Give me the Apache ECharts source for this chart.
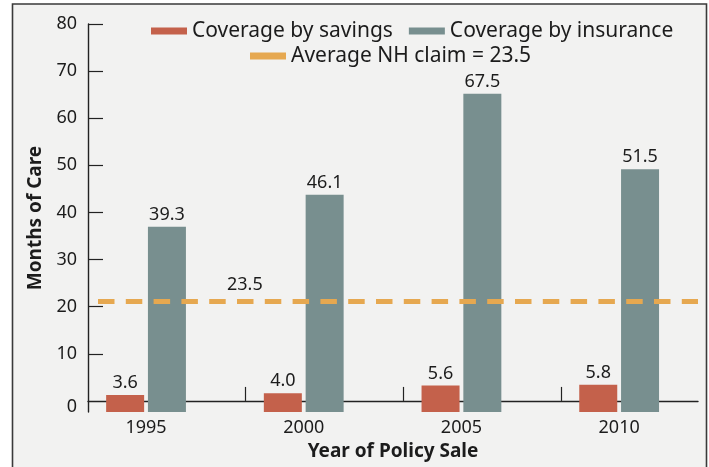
<!DOCTYPE html>
<html><head><meta charset="utf-8">
<script src="https://cdn.jsdelivr.net/npm/echarts@6/dist/echarts.min.js"></script>
<style>html,body{margin:0;padding:0;background:#fff}#c{width:709px;height:467px}</style>
</head><body><div id="c"></div>
<script>
// ---- data ----
const years = [1995, 2000, 2005, 2010];
const savings = [3.6, 4.0, 5.6, 5.8];
const insurance = [39.3, 46.1, 67.5, 51.5];
const avgClaim = 23.5;
const yTickLabels = [0, 10, 20, 30, 40, 50, 60, 70, 80];
const nameSavings = 'Coverage by savings';
const nameInsurance = 'Coverage by insurance';
const nameAvg = 'Average NH claim = ' + avgClaim;
const xTitle = 'Year of Policy Sale';
const yTitle = 'Months of Care';

// ---- layout ----
const FONT = '"Noto Sans", sans-serif';
const TXT = '#1c1c1c';
const xMin = 1993.16, xMax = 2012.5;
const xTickMarks = [xMin + 5, xMin + 10, xMin + 15];

const chart = echarts.init(document.getElementById('c'), null, {renderer: 'canvas'});
chart.setOption({
  backgroundColor: '#ffffff',
  animation: false,
  textStyle: {fontFamily: FONT, color: TXT},
  graphic: [{
    type: 'rect', z: -10, silent: true,
    shape: {x: 12.5, y: 4, width: 694, height: 475},
    style: {fill: '#f2f2f1', stroke: '#3a3a3a', lineWidth: 1.6}
  }],
  legend: [{
    data: [nameSavings, nameInsurance],
    left: 151, top: 20, padding: 0, icon: 'rect', itemWidth: 36, itemHeight: 7, itemGap: 16,
    textStyle: {fontFamily: FONT, fontSize: 21, color: TXT, lineHeight: 22}
  }, {
    data: [nameAvg],
    left: 250, top: 45, padding: 0, icon: 'rect', itemWidth: 36, itemHeight: 7,
    textStyle: {fontFamily: FONT, fontSize: 21, color: TXT, lineHeight: 22}
  }],
  grid: {left: 88, right: 11, top: 24, bottom: 55},
  xAxis: {
    type: 'value', min: xMin, max: xMax,
    name: xTitle, nameLocation: 'middle', nameGap: 22,
    nameTextStyle: {fontFamily: FONT, fontSize: 19, fontWeight: 'bold', color: TXT},
    axisLine: {show: true, lineStyle: {color: '#222', width: 1.4}},
    axisTick: {show: true, inside: true, length: 14, customValues: xTickMarks, lineStyle: {color: '#222', width: 1.2}},
    axisLabel: {customValues: years, formatter: v => String(v), fontFamily: FONT, fontSize: 18, color: TXT, margin: 7},
    splitLine: {show: false}
  },
  yAxis: [{
    type: 'value', min: -2.35, max: 80, position: 'left',
    name: yTitle, nameLocation: 'middle', nameGap: 37, nameRotate: 90,
    nameTextStyle: {fontFamily: FONT, fontSize: 19, fontWeight: 'bold', color: TXT},
    axisLine: {show: true, lineStyle: {color: '#222', width: 1.4}},
    axisTick: {show: true, inside: true, length: 15, customValues: yTickLabels.filter(v => v !== 0), lineStyle: {color: '#222', width: 1.2}},
    axisLabel: {
      customValues: yTickLabels, fontFamily: FONT, fontSize: 18, color: TXT, margin: 11,
      formatter: v => v === 0 ? '{z|0}' : String(v),
      rich: {z: {fontFamily: FONT, fontSize: 18, color: TXT, padding: [11, 0, 0, 0]}}
    },
    splitLine: {show: false}
  }, {
    type: 'value', min: 0, max: 82.3, show: false, position: 'left',
    splitLine: {show: false}
  }],
  series: [{
    name: nameSavings, type: 'bar', yAxisIndex: 1,
    data: years.map((y, i) => [y, savings[i]]),
    barWidth: 38, barGap: '10%',
    itemStyle: {color: '#c4614b'},
    label: {show: true, position: 'top', distance: 3, fontFamily: FONT, fontSize: 18, color: TXT,
      formatter: p => p.value[1].toFixed(1)}
  }, {
    name: nameInsurance, type: 'bar', yAxisIndex: 1,
    data: years.map((y, i) => [y, insurance[i]]),
    barWidth: 38, barGap: '10%',
    itemStyle: {color: '#788f8f'},
    label: {show: true, position: 'top', distance: 3, fontFamily: FONT, fontSize: 18, color: TXT,
      formatter: p => p.value[1].toFixed(1)}
  }, {
    name: nameAvg, type: 'line', yAxisIndex: 1, data: [],
    color: '#e6a850',
    itemStyle: {color: '#e6a850'},
    lineStyle: {color: '#e6a850'},
    markLine: {
      silent: true, symbol: ['none', 'none'],
      lineStyle: {color: '#e6a850', width: 5, type: [16.5, 11.3], dashOffset: 17.8},
      label: {show: true, position: 'insideStartTop', distance: [139, 7], formatter: String(avgClaim),
        fontFamily: FONT, fontSize: 18, color: TXT},
      data: [{yAxis: avgClaim}]
    }
  }]
});
</script>
</body></html>
